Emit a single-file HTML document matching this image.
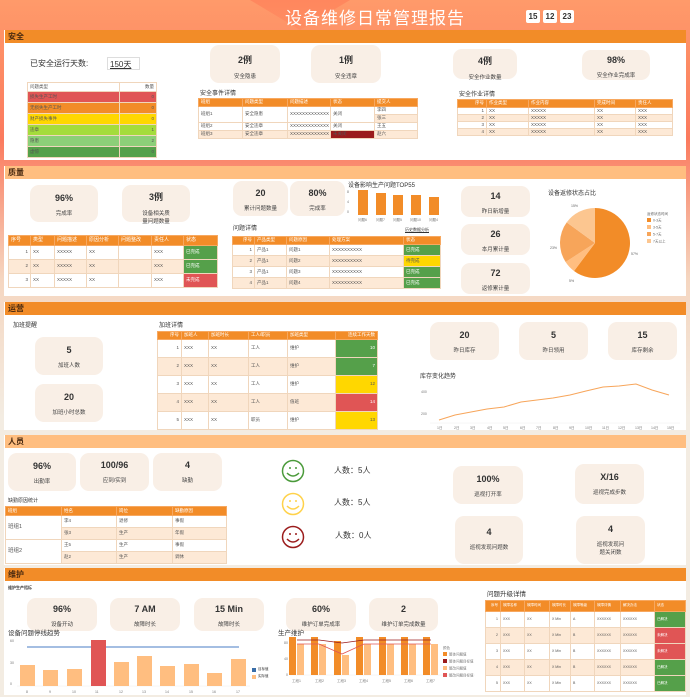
<!DOCTYPE html>
<html><head><meta charset="utf-8">
<style>
*{margin:0;padding:0;box-sizing:border-box}
body{width:690px;height:697px;overflow:hidden;position:relative;font-family:"Liberation Sans","Noto Sans CJK SC",sans-serif;background:linear-gradient(180deg,#ff9a6a 0%,#fb7a5e 20%,#f5d6c0 40%,#f3ece2 60%,#f3ece2 100%);color:#333}
.a{position:absolute}
.bar{position:absolute;left:5px;width:681px;height:13px;background:#f28c28;font-size:8px;font-weight:bold;color:#4a2a10;padding:2px 3px;line-height:9px}
.bar.l{background:#ffbe80}
.pan{position:absolute;left:4px;width:682px;background:#fff}
.card{position:absolute;background:#f9efe6;border-radius:9px;text-align:center;font-size:5.5px;color:#444}
.card b{display:block;font-size:9px;color:#333;margin-bottom:6px}
.t{position:absolute;font-size:7px;color:#333}
table{position:absolute;border-collapse:collapse;font-size:4.5px;color:#555;table-layout:fixed}
td{border:0.5px solid #f0d6bc;padding:0 2px;white-space:nowrap;overflow:hidden;line-height:1}
tr.h td{background:#f28c28;color:#fff;border-color:#f7a860}
tr.o td{background:#fde9d6}
.g{background:#55a04a!important;color:#fff}.y{background:#ffd700!important}.r{background:#e05555!important;color:#fff}.dr{background:#9b1c1c!important}
</style></head><body>
<!-- header -->
<div class="a" style="left:250px;top:0;width:100px;height:30px;background:linear-gradient(180deg,#ff7a55,#ff8a60);clip-path:polygon(0 0,100% 0,50% 100%);opacity:.6"></div>
<div class="a" style="left:285px;top:4px;font-size:17px;color:#fff;letter-spacing:1px">设备维修日常管理报告</div>
<div class="a" style="left:526px;top:10px;width:14px;height:13px;background:#fff;border-radius:2px;font-size:8px;text-align:center;line-height:13px;font-weight:bold">15</div>
<div class="a" style="left:543px;top:10px;width:14px;height:13px;background:#fff;border-radius:2px;font-size:8px;text-align:center;line-height:13px;font-weight:bold">12</div>
<div class="a" style="left:560px;top:10px;width:14px;height:13px;background:#fff;border-radius:2px;font-size:8px;text-align:center;line-height:13px;font-weight:bold">23</div>

<!-- 安全 -->
<div class="pan" style="top:30px;height:130px"></div>
<div class="bar" style="top:30px">安全</div>
<div class="t" style="left:30px;top:58px;font-size:8px">已安全运行天数:</div>
<div class="a" style="left:107px;top:57px;width:33px;height:13px;border:1px solid #ddd;font-size:8px;padding:1px 2px"><u>150天</u></div>
<table style="left:27px;top:82px;width:130px">
<col style="width:92px"><col>
<tr style="height:9px"><td>问题类型</td><td style="text-align:right">数量</td></tr>
<tr style="height:11px;background:#e05555"><td>损失生产工时</td><td style="text-align:right">0</td></tr>
<tr style="height:11px;background:#f28c28"><td>无损失生产工时</td><td style="text-align:right">0</td></tr>
<tr style="height:11px;background:#ffd700"><td>财产损失事件</td><td style="text-align:right">0</td></tr>
<tr style="height:11px;background:#a4dc3c"><td>违章</td><td style="text-align:right">1</td></tr>
<tr style="height:11px;background:#8ccf78"><td>隐患</td><td style="text-align:right">2</td></tr>
<tr style="height:11px;background:#55a04a"><td>虚惊</td><td style="text-align:right">0</td></tr>
</table>
<div class="card" style="left:210px;top:45px;width:70px;height:38px;padding-top:8px"><b>2例</b>安全隐患</div>
<div class="card" style="left:311px;top:45px;width:70px;height:38px;padding-top:8px"><b>1例</b>安全违章</div>
<div class="card" style="left:453px;top:49px;width:64px;height:30px;padding-top:5px"><b>4例</b>安全作业数量</div>
<div class="card" style="left:582px;top:50px;width:68px;height:30px;padding-top:5px"><b>98%</b>安全作业完成率</div>
<div class="t" style="left:200px;top:88px;font-size:6px">安全事件详情</div>
<table style="left:198px;top:98px;width:220px">
<col style="width:44px"><col style="width:45px"><col style="width:43px"><col style="width:44px"><col>
<tr class="h" style="height:8px"><td>班组</td><td>问题类型</td><td>问题描述</td><td>状态</td><td>提交人</td></tr>
<tr style="height:8px"><td rowspan="2">班组1</td><td rowspan="2">安全隐患</td><td rowspan="2">XXXXXXXXXXXXX</td><td rowspan="2">关闭</td><td>李四</td></tr>
<tr style="height:8px"><td style="background:#fde9d6">张三</td></tr>
<tr style="height:8px"><td>班组2</td><td>安全违章</td><td>XXXXXXXXXXXXX</td><td>关闭</td><td>王五</td></tr>
<tr class="o" style="height:8px"><td>班组3</td><td>安全违章</td><td>XXXXXXXXXXXXX</td><td class="dr">未关闭</td><td>赵六</td></tr>
</table>
<div class="t" style="left:459px;top:89px;font-size:6px">安全作业详情</div>
<table style="left:457px;top:99px;width:216px">
<col style="width:29px"><col style="width:42px"><col style="width:66px"><col style="width:41px"><col>
<tr class="h" style="height:8px"><td style="text-align:right">序号</td><td>作业类型</td><td>作业内容</td><td>完成时间</td><td>责任人</td></tr>
<tr style="height:7px"><td style="text-align:right">1</td><td>XX</td><td>XXXXX</td><td>XX</td><td>XXX</td></tr>
<tr class="o" style="height:7px"><td style="text-align:right">2</td><td>XX</td><td>XXXXX</td><td>XX</td><td>XXX</td></tr>
<tr style="height:7px"><td style="text-align:right">3</td><td>XX</td><td>XXXXX</td><td>XX</td><td>XXX</td></tr>
<tr class="o" style="height:7px"><td style="text-align:right">4</td><td>XX</td><td>XXXXX</td><td>XX</td><td>XXX</td></tr>
</table>

<!-- 质量 -->
<div class="pan" style="top:166px;height:130px"></div>
<div class="bar l" style="top:166px">质量</div>
<div class="card" style="left:30px;top:185px;width:68px;height:37px;padding-top:8px"><b>96%</b>完成率</div>
<div class="card" style="left:122px;top:185px;width:68px;height:37px;padding-top:5px"><b>3例</b>设备相关质<br>量问题数量</div>
<table style="left:8px;top:235px;width:210px">
<col style="width:22px"><col style="width:24px"><col style="width:32px"><col style="width:32px"><col style="width:33px"><col style="width:32px"><col>
<tr class="h" style="height:10px;font-size:5px"><td>序号</td><td>类型</td><td>问题描述</td><td>原因分析</td><td>问题整改</td><td>责任人</td><td>状态</td></tr>
<tr style="height:14px"><td style="text-align:right">1</td><td>XX</td><td>XXXXX</td><td>XX</td><td></td><td>XXX</td><td class="g">已完成</td></tr>
<tr class="o" style="height:14px"><td style="text-align:right">2</td><td>XX</td><td>XXXXX</td><td>XX</td><td></td><td>XXX</td><td class="g">已完成</td></tr>
<tr style="height:14px"><td style="text-align:right">3</td><td>XX</td><td>XXXXX</td><td>XX</td><td></td><td>XXX</td><td class="r">未完成</td></tr>
</table>
<div class="card" style="left:233px;top:181px;width:55px;height:35px;padding-top:7px"><b>20</b>累计问题数量</div>
<div class="card" style="left:290px;top:181px;width:55px;height:35px;padding-top:7px"><b>80%</b>完成率</div>
<div class="t" style="left:348px;top:180px;font-size:6px">设备影响生产问题TOP55</div>
<svg class="a" style="left:345px;top:188px" width="100" height="36">
<g fill="#f28c28"><rect x="13" y="2" width="10" height="25"/><rect x="31" y="5" width="10" height="22"/><rect x="48" y="7" width="10" height="20"/><rect x="66" y="7" width="10" height="20"/><rect x="84" y="9" width="10" height="18"/></g>
<g font-size="3.5" fill="#777"><text x="2" y="5">8</text><text x="2" y="15">4</text><text x="2" y="25">0</text>
<text x="13" y="33">问题6</text><text x="31" y="33">问题7</text><text x="48" y="33">问题5</text><text x="65" y="33">问题10</text><text x="84" y="33">问题4</text></g></svg>
<div class="t" style="left:233px;top:223px;font-size:6px">问题详情</div>
<div class="t" style="left:405px;top:227px;font-size:4px;text-decoration:underline">历史数据分析</div>
<table style="left:232px;top:236px;width:209px">
<col style="width:22px"><col style="width:32px"><col style="width:43px"><col style="width:74px"><col>
<tr class="h" style="height:8px"><td style="text-align:right">序号</td><td>产品类型</td><td>问题原因</td><td>处理方案</td><td>状态</td></tr>
<tr style="height:11px"><td style="text-align:right">1</td><td>产品1</td><td>问题1</td><td>XXXXXXXXXX</td><td class="g">已完成</td></tr>
<tr class="o" style="height:11px"><td style="text-align:right">2</td><td>产品1</td><td>问题2</td><td>XXXXXXXXXX</td><td class="y">待完成</td></tr>
<tr style="height:11px"><td style="text-align:right">3</td><td>产品1</td><td>问题3</td><td>XXXXXXXXXX</td><td class="g">已完成</td></tr>
<tr class="o" style="height:11px"><td style="text-align:right">4</td><td>产品1</td><td>问题4</td><td>XXXXXXXXXX</td><td class="g">已完成</td></tr>
</table>
<div class="card" style="left:461px;top:186px;width:69px;height:31px;padding-top:5px"><b>14</b>昨日新增量</div>
<div class="card" style="left:461px;top:224px;width:69px;height:31px;padding-top:5px"><b>26</b>本月累计量</div>
<div class="card" style="left:461px;top:263px;width:69px;height:31px;padding-top:5px"><b>72</b>返修累计量</div>
<div class="t" style="left:548px;top:188px;font-size:6px">设备返修状态占比</div>
<svg class="a" style="left:540px;top:195px" width="148" height="96">
<g transform="translate(55,48)">
<path d="M0 0 L0 -35 A35 35 0 1 1 -21.0 28.0 Z" fill="#f28c28"/>
<path d="M0 0 L-21.0 28.0 A35 35 0 0 1 -29.4 19.0 Z" fill="#ffbe80"/>
<path d="M0 0 L-29.4 19.0 A35 35 0 0 1 -28.3 -20.6 Z" fill="#f7a55a"/>
<path d="M0 0 L-28.3 -20.6 A35 35 0 0 1 0 -35 Z" fill="#fcc690"/>
</g>
<g font-size="3.5" fill="#666"><text x="31" y="12">15%</text><text x="10" y="54">23%</text><text x="29" y="87">5%</text><text x="91" y="60">57%</text>
<text x="107" y="20">返修状态时间</text>
<rect x="107" y="23" width="4" height="4" fill="#f28c28"/><text x="113" y="26.5">0-3天</text>
<rect x="107" y="30" width="4" height="4" fill="#ffbe80"/><text x="113" y="33.5">3-5天</text>
<rect x="107" y="37" width="4" height="4" fill="#f7a55a"/><text x="113" y="40.5">5-7天</text>
<rect x="107" y="44" width="4" height="4" fill="#fcc690"/><text x="113" y="47.5">7天以上</text></g></svg>

<!-- 运营 -->
<div class="pan" style="top:302px;height:128px"></div>
<div class="bar" style="top:302px">运营</div>
<div class="t" style="left:13px;top:320px;font-size:6px">加班提醒</div>
<div class="card" style="left:35px;top:337px;width:68px;height:38px;padding-top:8px"><b>5</b>加班人数</div>
<div class="card" style="left:35px;top:384px;width:68px;height:38px;padding-top:8px"><b>20</b>加班小时总数</div>
<div class="t" style="left:159px;top:320px;font-size:6px">加班详情</div>
<table style="left:157px;top:331px;width:221px">
<col style="width:24px"><col style="width:27px"><col style="width:40px"><col style="width:39px"><col style="width:48px"><col>
<tr class="h" style="height:8px"><td style="text-align:right">序号</td><td>加班人</td><td>加班时长</td><td>工人/职员</td><td>加班类型</td><td style="text-align:right">连续工作天数</td></tr>
<tr style="height:18px"><td style="text-align:right">1</td><td>XXX</td><td>XX</td><td>工人</td><td>维护</td><td class="g" style="text-align:right">10</td></tr>
<tr class="o" style="height:18px"><td style="text-align:right">2</td><td>XXX</td><td>XX</td><td>工人</td><td>维护</td><td class="g" style="text-align:right">7</td></tr>
<tr style="height:18px"><td style="text-align:right">3</td><td>XXX</td><td>XX</td><td>工人</td><td>维护</td><td class="y" style="text-align:right">12</td></tr>
<tr class="o" style="height:18px"><td style="text-align:right">4</td><td>XXX</td><td>XX</td><td>工人</td><td>值班</td><td class="r" style="text-align:right">14</td></tr>
<tr style="height:18px"><td style="text-align:right">5</td><td>XXX</td><td>XX</td><td>职员</td><td>维护</td><td class="y" style="text-align:right">13</td></tr>
</table>
<div class="card" style="left:430px;top:322px;width:69px;height:38px;padding-top:8px"><b>20</b>昨日库存</div>
<div class="card" style="left:519px;top:322px;width:69px;height:38px;padding-top:8px"><b>5</b>昨日领用</div>
<div class="card" style="left:608px;top:322px;width:69px;height:38px;padding-top:8px"><b>15</b>库存剩余</div>
<div class="t" style="left:420px;top:371px;font-size:6px">库存变化趋势</div>
<svg class="a" style="left:415px;top:380px" width="270" height="52">
<g font-size="3.5" fill="#777"><text x="6" y="13">400</text><text x="6" y="35">200</text>
<text x="22" y="49">1日</text><text x="39" y="49">2日</text><text x="55" y="49">3日</text><text x="72" y="49">4日</text><text x="88" y="49">5日</text><text x="105" y="49">6日</text><text x="121" y="49">7日</text><text x="138" y="49">8日</text><text x="154" y="49">9日</text><text x="170" y="49">10日</text><text x="187" y="49">11日</text><text x="203" y="49">12日</text><text x="220" y="49">13日</text><text x="236" y="49">14日</text><text x="252" y="49">15日</text></g>
<line x1="15" y1="43" x2="265" y2="43" stroke="#eee" stroke-width=".5"/>
<polyline fill="none" stroke="#f7a55a" stroke-width="1" points="24,40 40,35 56,32 72,29 89,27 106,22 122,20 138,18 155,15 171,11 188,7 204,6 221,4 237,10 254,15"/>
</svg>

<!-- 人员 -->
<div class="pan" style="top:435px;height:130px"></div>
<div class="bar l" style="top:435px">人员</div>
<div class="card" style="left:8px;top:453px;width:68px;height:38px;padding-top:8px"><b>96%</b>出勤率</div>
<div class="card" style="left:80px;top:453px;width:69px;height:38px;padding-top:7px"><b>100/96</b>应到/实到</div>
<div class="card" style="left:153px;top:453px;width:69px;height:38px;padding-top:7px"><b>4</b>缺勤</div>
<div class="t" style="left:8px;top:497px;font-size:5px">缺勤原因统计</div>
<table style="left:5px;top:506px;width:222px">
<col style="width:56px"><col style="width:55px"><col style="width:56px"><col>
<tr class="h" style="height:9px"><td>班组</td><td>姓名</td><td>岗位</td><td>缺勤原因</td></tr>
<tr style="height:12px"><td rowspan="2" style="font-size:5.5px">班组1</td><td>李4</td><td>退修</td><td>事假</td></tr>
<tr class="o" style="height:12px"><td>张3</td><td>生产</td><td>年假</td></tr>
<tr style="height:12px"><td rowspan="2" style="font-size:5.5px;background:#fff">班组2</td><td>王5</td><td>生产</td><td>事假</td></tr>
<tr class="o" style="height:12px"><td>赵2</td><td>生产</td><td>调休</td></tr>
</table>
<svg class="a" style="left:280px;top:458px" width="30" height="95">
<g fill="none" stroke-width="1.5">
<circle cx="13" cy="13" r="10.5" stroke="#4a9a3a"/><circle cx="13" cy="46" r="10.5" stroke="#ffd24a"/><circle cx="13" cy="79" r="10.5" stroke="#9b1c1c"/>
<path d="M7 15 Q13 21 19 15" stroke="#4a9a3a"/><path d="M7 48 Q13 54 19 48" stroke="#ffd24a"/><path d="M7 81 Q13 87 19 81" stroke="#9b1c1c"/></g>
<g><circle cx="10" cy="10" r="1" fill="#4a9a3a"/><circle cx="16" cy="10" r="1" fill="#4a9a3a"/><circle cx="10" cy="43" r="1" fill="#ffd24a"/><circle cx="16" cy="43" r="1" fill="#ffd24a"/><circle cx="10" cy="76" r="1" fill="#9b1c1c"/><circle cx="16" cy="76" r="1" fill="#9b1c1c"/></g></svg>
<div class="t" style="left:334px;top:465px;font-size:8px">人数：5人</div>
<div class="t" style="left:334px;top:497px;font-size:8px">人数：5人</div>
<div class="t" style="left:335px;top:530px;font-size:8px">人数：0人</div>
<div class="card" style="left:453px;top:466px;width:70px;height:38px;padding-top:8px"><b>100%</b>巡视打开率</div>
<div class="card" style="left:575px;top:464px;width:69px;height:40px;padding-top:8px"><b>X/16</b>巡视完成步数</div>
<div class="card" style="left:455px;top:516px;width:68px;height:48px;padding-top:11px"><b>4</b>巡视发现问题数</div>
<div class="card" style="left:576px;top:516px;width:69px;height:48px;padding-top:8px"><b>4</b>巡视发现问<br>题关闭数</div>

<!-- 维护 -->
<div class="pan" style="top:568px;height:127px"></div>
<div class="bar" style="top:568px">维护</div>
<div class="t" style="left:8px;top:585px;font-size:4px;font-weight:bold">维护生产指标</div>
<div class="card" style="left:27px;top:598px;width:70px;height:33px;padding-top:6px"><b>96%</b>设备开动</div>
<div class="card" style="left:110px;top:598px;width:70px;height:33px;padding-top:6px"><b>7 AM</b>故障时长</div>
<div class="card" style="left:194px;top:598px;width:70px;height:33px;padding-top:6px"><b>15 Min</b>故障时长</div>
<div class="card" style="left:286px;top:598px;width:70px;height:33px;padding-top:6px"><b>60%</b>维护订单完成率</div>
<div class="card" style="left:369px;top:598px;width:69px;height:33px;padding-top:6px"><b>2</b>维护订单完成数量</div>
<div class="t" style="left:8px;top:627px;font-size:6.5px">设备问题停线趋势</div>
<svg class="a" style="left:5px;top:637px" width="250" height="58">
<g font-size="3.5" fill="#777"><text x="5" y="5">60</text><text x="5" y="27">30</text><text x="5" y="48">0</text></g>
<line x1="12" y1="49" x2="245" y2="49" stroke="#eee" stroke-width=".5"/>
<line x1="22" y1="10" x2="234" y2="10" stroke="#86a8d8" stroke-width="1.5"/>
<g fill="#ffbe80"><rect x="15" y="28" width="15" height="21"/><rect x="38" y="33" width="15" height="16"/><rect x="62" y="32" width="15" height="17"/><rect x="109" y="25" width="15" height="24"/><rect x="132" y="19" width="15" height="30"/><rect x="155" y="29" width="15" height="20"/><rect x="179" y="27" width="15" height="22"/><rect x="202" y="36" width="15" height="13"/><rect x="226" y="22" width="15" height="27"/></g>
<rect x="86" y="3" width="15" height="46" fill="#e05555"/>
<g font-size="3.5" fill="#777"><text x="21" y="56">8</text><text x="44" y="56">9</text><text x="67" y="56">10</text><text x="90" y="56">11</text><text x="114" y="56">12</text><text x="137" y="56">13</text><text x="160" y="56">14</text><text x="184" y="56">15</text><text x="207" y="56">16</text><text x="231" y="56">17</text></g>
</svg>
<div class="a" style="left:252px;top:668px;width:4px;height:4px;background:#3a6ea8"></div><div class="t" style="left:258px;top:667px;font-size:3.5px">目标值</div>
<div class="a" style="left:252px;top:675px;width:4px;height:4px;background:#ffbe80"></div><div class="t" style="left:258px;top:674px;font-size:3.5px">实际值</div>
<div class="t" style="left:278px;top:627px;font-size:6.5px">生产维护</div>
<svg class="a" style="left:270px;top:635px" width="215" height="60">
<g font-size="3.5" fill="#777"><text x="14" y="9">80</text><text x="14" y="25">40</text><text x="16" y="41">0</text></g>
<line x1="20" y1="40" x2="205" y2="40" stroke="#eee" stroke-width=".5"/>
<g fill="#f28c28"><rect x="19" y="2" width="7" height="38"/><rect x="41" y="2" width="7" height="38"/><rect x="64" y="6" width="7" height="34"/><rect x="86" y="2" width="7" height="38"/><rect x="109" y="2" width="7" height="38"/><rect x="131" y="2" width="7" height="38"/><rect x="153" y="2" width="7" height="38"/></g>
<g fill="#ffbe80"><rect x="27" y="9" width="7" height="31"/><rect x="49" y="9" width="7" height="31"/><rect x="72" y="20" width="7" height="20"/><rect x="94" y="9" width="7" height="31"/><rect x="117" y="9" width="7" height="31"/><rect x="139" y="9" width="7" height="31"/><rect x="161" y="9" width="7" height="31"/></g>
<polyline fill="none" stroke="#9b1c1c" stroke-width=".8" points="27,5 49,5 72,8 94,5 117,5 139,5 161,5"/>
<polyline fill="none" stroke="#e05555" stroke-width=".8" points="27,9 49,9 72,19 94,9 117,9 139,9 161,9"/>
<g font-size="3.5" fill="#777"><text x="22" y="47">工段1</text><text x="45" y="47">工段2</text><text x="67" y="47">工段3</text><text x="89" y="47">工段4</text><text x="112" y="47">工段5</text><text x="134" y="47">工段6</text><text x="156" y="47">工段7</text>
<text x="173" y="14">颜色</text>
<rect x="173" y="17" width="4" height="4" fill="#f28c28"/><text x="179" y="20.5">整体问题值</text>
<rect x="173" y="24" width="4" height="4" fill="#9b1c1c"/><text x="179" y="27.5">整体问题目标值</text>
<rect x="173" y="31" width="4" height="4" fill="#ffbe80"/><text x="179" y="34.5">整改问题值</text>
<rect x="173" y="38" width="4" height="4" fill="#e05555"/><text x="179" y="41.5">整改问题目标值</text></g>
</svg>
<div class="t" style="left:487px;top:588px;font-size:6.5px">问题升级详情</div>
<table style="left:485px;top:600px;width:201px">
<col style="width:15px"><col style="width:24px"><col style="width:25px"><col style="width:21px"><col style="width:24px"><col style="width:26px"><col style="width:34px"><col>
<tr class="h" style="height:11px;font-size:3.5px"><td style="text-align:right">序号</td><td>故障名称</td><td>故障时间</td><td>故障时长</td><td>故障等级</td><td>故障详情</td><td>解决办法</td><td>状态</td></tr>
<tr style="height:16px;font-size:3.5px"><td style="text-align:right">1</td><td>XXX</td><td>XX</td><td>X Min</td><td>A</td><td>XXXXXX</td><td>XXXXXX</td><td class="g">已解决</td></tr>
<tr class="o" style="height:16px;font-size:3.5px"><td style="text-align:right">2</td><td>XXX</td><td>XX</td><td>X Min</td><td>B</td><td>XXXXXX</td><td>XXXXXX</td><td class="r">未解决</td></tr>
<tr style="height:16px;font-size:3.5px"><td style="text-align:right">3</td><td>XXX</td><td>XX</td><td>X Min</td><td>B</td><td>XXXXXX</td><td>XXXXXX</td><td class="r">未解决</td></tr>
<tr class="o" style="height:16px;font-size:3.5px"><td style="text-align:right">4</td><td>XXX</td><td>XX</td><td>X Min</td><td>B</td><td>XXXXXX</td><td>XXXXXX</td><td class="g">已解决</td></tr>
<tr style="height:16px;font-size:3.5px"><td style="text-align:right">5</td><td>XXX</td><td>XX</td><td>X Min</td><td>B</td><td>XXXXXX</td><td>XXXXXX</td><td class="g">已解决</td></tr>
</table>
</body></html>
